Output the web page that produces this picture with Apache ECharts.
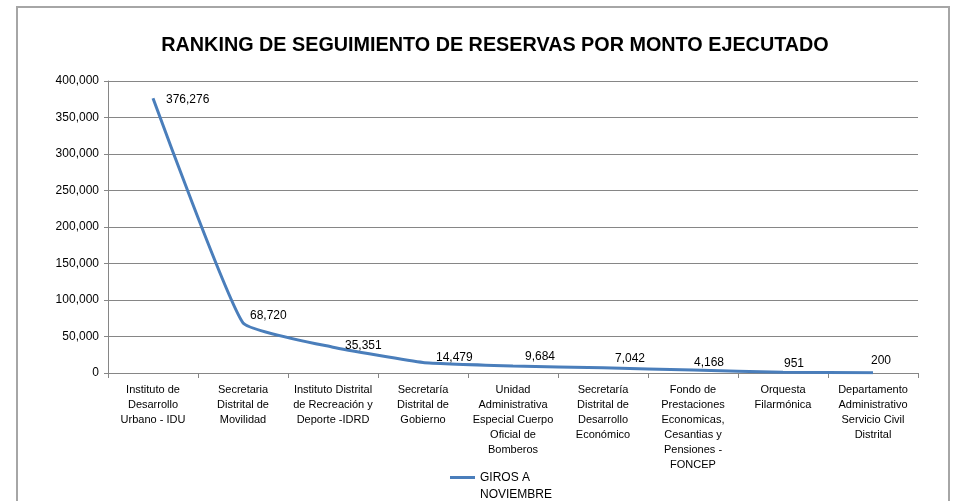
<!DOCTYPE html>
<html>
<head>
<meta charset="utf-8">
<script src="https://cdn.jsdelivr.net/npm/echarts@6/dist/echarts.min.js"></script>
<style>
    html, body { margin: 0; padding: 0; background: #fff; }
    #chart { width: 957px; height: 501px; }
</style>
</head>
<body>
<div id="chart"></div>
<script>
var categories = [
    "Instituto de\nDesarrollo\nUrbano - IDU",
    "Secretaria\nDistrital de\nMovilidad",
    "Instituto Distrital\nde Recreación y\nDeporte -IDRD",
    "Secretaría\nDistrital de\nGobierno",
    "Unidad\nAdministrativa\nEspecial Cuerpo\nOficial de\nBomberos",
    "Secretaría\nDistrital de\nDesarrollo\nEconómico",
    "Fondo de\nPrestaciones\nEconomicas,\nCesantias y\nPensiones -\nFONCEP",
    "Orquesta\nFilarmónica",
    "Departamento\nAdministrativo\nServicio Civil\nDistrital"
];
var girosNoviembre = [376276, 68720, 35351, 14479, 9684, 7042, 4168, 951, 200];
var yTicks = { min: 0, max: 400000, interval: 50000 };
var seriesName = "GIROS A\nNOVIEMBRE";

var fontFamily = "'Liberation Sans', Arial, sans-serif";

// label nudges (like excel placed them, to avoid the line)
var labelNudge = [[13, 1], [7, -7], [12, -2], [13, -5], [12, -9], [12, -9], [1, -7], [1, -9], [-2, -12]];

var myChart = echarts.init(document.getElementById('chart'));

var lineData = girosNoviembre.map(function (v, i) {
    return { value: v, label: { offset: labelNudge[i] } };
});

var option = {
    animation: false,
    textStyle: { fontFamily: fontFamily },
    title: {
        text: 'RANKING DE SEGUIMIENTO DE RESERVAS POR MONTO EJECUTADO',
        left: 490,
        textAlign: 'center',
        top: 31,
        textStyle: { fontSize: 19.8, fontWeight: 'bold', color: '#000', fontFamily: fontFamily }
    },
    graphic: [{
        type: 'rect',
        shape: { x: 17, y: 7, width: 932, height: 520 },
        style: { fill: 'none', stroke: '#a6a6a6', lineWidth: 2 },
        silent: true
    }],
    legend: {
        data: [seriesName],
        left: 445,
        top: 447,
        itemWidth: 25,
        itemHeight: 3,
        itemGap: 2,
        icon: 'rect',
        formatter: function (name) { return '\n' + name; },
        textStyle: { fontSize: 12, color: '#000', lineHeight: 17, fontFamily: fontFamily }
    },
    grid: {
        left: 108,
        right: 39,
        top: 81,
        bottom: 128
    },
    xAxis: [{
        type: 'category',
        data: categories,
        boundaryGap: true,
        axisLine: { lineStyle: { color: '#868686', width: 1 } },
        axisTick: { show: true, length: 5, inside: false, lineStyle: { color: '#868686' } },
        axisLabel: {
            interval: 0,
            fontSize: 11,
            lineHeight: 15,
            color: '#000',
            margin: 9,
            fontFamily: fontFamily
        },
        splitLine: { show: false }
    }],
    yAxis: [{
        type: 'value',
        min: yTicks.min,
        max: yTicks.max,
        interval: yTicks.interval,
        axisLine: { show: true, lineStyle: { color: '#868686' } },
        axisTick: { show: true, length: 4, lineStyle: { color: '#868686' } },
        axisLabel: {
            fontSize: 12,
            color: '#000',
            margin: 9,
            fontFamily: fontFamily,
            formatter: function (v) { return v.toLocaleString('en-US'); }
        },
        splitLine: { show: true, lineStyle: { color: '#868686', width: 1 } }
    }],
    series: [{
        name: seriesName,
        type: 'line',
        smooth: 0.12,
        symbol: 'circle',
        symbolSize: 0,
        showSymbol: true,
        lineStyle: { color: '#4a7ebb', width: 3 },
        itemStyle: { color: '#4a7ebb' },
        label: {
            show: true,
            position: 'right',
            distance: 0,
            fontSize: 12,
            color: '#000',
            fontFamily: fontFamily,
            formatter: function (p) { return p.value.toLocaleString('en-US'); }
        },
        data: lineData
    }]
};

myChart.setOption(option);
</script>
</body>
</html>
